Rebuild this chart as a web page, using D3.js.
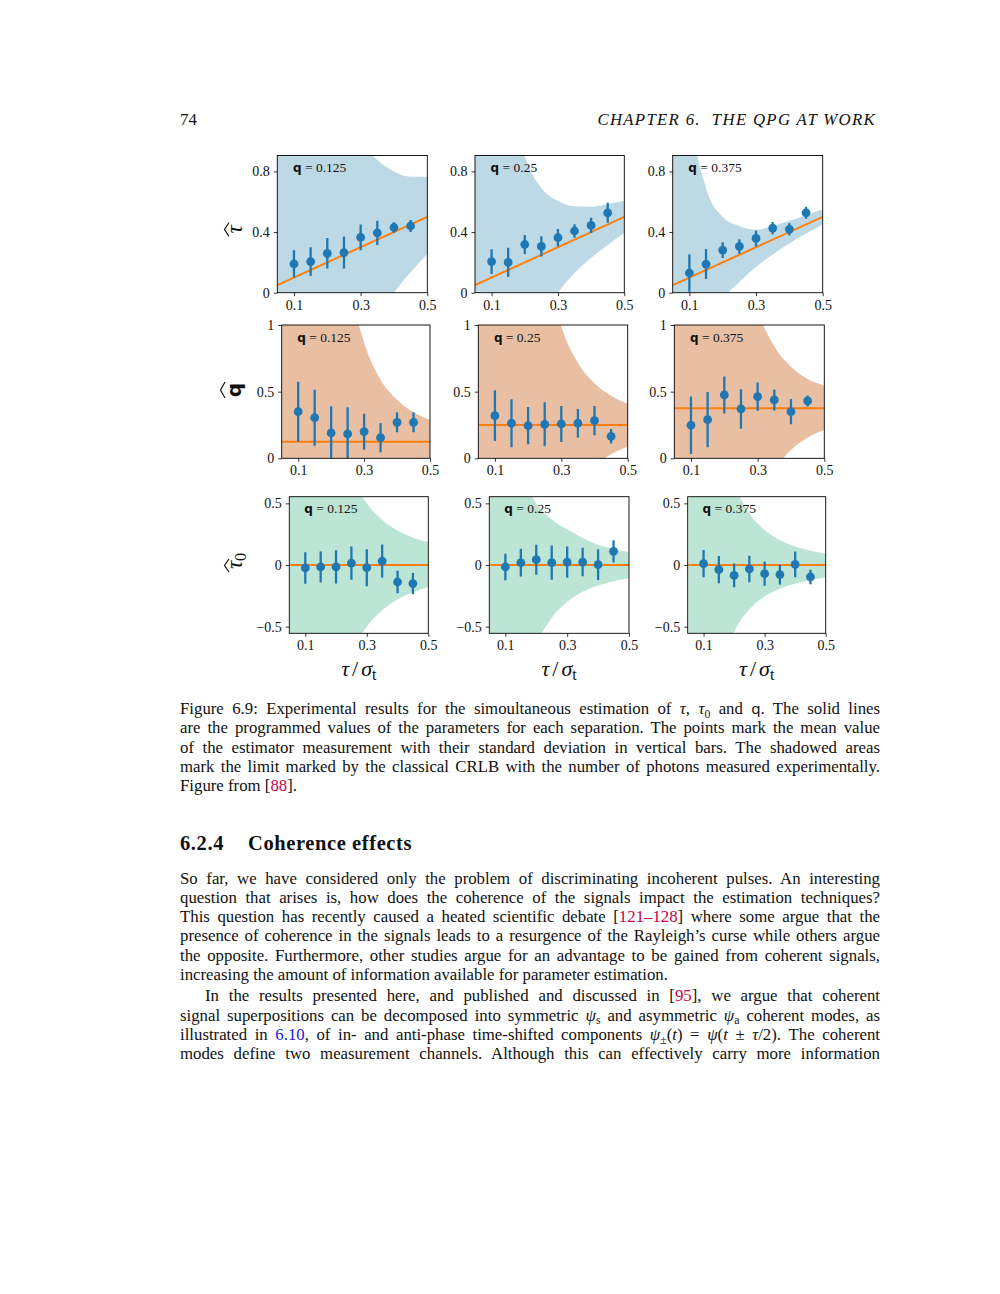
<!DOCTYPE html>
<html><head><meta charset="utf-8">
<script src="https://cdn.jsdelivr.net/npm/d3@7"></script>
<style>
body{margin:0;background:#fff;width:1000px;height:1294px;position:relative;overflow:hidden;font-family:"Liberation Serif",serif;color:#111;}
.ln{position:absolute;left:180px;width:700px;font-size:16.8px;line-height:16.8px;text-align:justify;text-align-last:justify;white-space:nowrap;}
.last{text-align-last:left;}
.it{font-style:italic}
.ref{color:#c8004b}
.lk{color:#2020d0}
.sb{position:relative;top:0.3em;font-size:70%;font-style:normal}
.sf{font-family:"DejaVu Sans",sans-serif;font-size:88%}
svg{position:absolute;left:0;top:0}
</style></head><body>
<svg id="fig" width="1000" height="700"></svg>

<div class="ln last" style="top:112px;width:60px">74</div>
<div class="ln last it" style="top:112px;left:auto;right:124px;width:auto;text-align:right;letter-spacing:1.3px">CHAPTER 6.&nbsp; THE QPG AT WORK</div>

<div class="ln" style="top:701px">Figure 6.9: Experimental results for the simoultaneous estimation of <span class="it">τ</span>, <span class="it">τ</span><span class="sb">0</span> and <span class="sf">q</span>. The solid lines</div>
<div class="ln" style="top:720.3px">are the programmed values of the parameters for each separation. The points mark the mean value</div>
<div class="ln" style="top:739.7px">of the estimator measurement with their standard deviation in vertical bars. The shadowed areas</div>
<div class="ln" style="top:759px">mark the limit marked by the classical CRLB with the number of photons measured experimentally.</div>
<div class="ln last" style="top:778.3px">Figure from [<span class="ref">88</span>].</div>

<div class="ln last" style="top:832.8px;font-size:20.5px;line-height:20.5px;font-weight:bold;letter-spacing:0.6px"><span style="display:inline-block;width:68px">6.2.4</span>Coherence effects</div>

<div class="ln" style="top:871px">So far, we have considered only the problem of discriminating incoherent pulses. An interesting</div>
<div class="ln" style="top:890px">question that arises is, how does the coherence of the signals impact the estimation techniques?</div>
<div class="ln" style="top:909.3px">This question has recently caused a heated scientific debate [<span class="ref">121–128</span>] where some argue that the</div>
<div class="ln" style="top:928.3px">presence of coherence in the signals leads to a resurgence of the Rayleigh’s curse while others argue</div>
<div class="ln" style="top:947.7px">the opposite. Furthermore, other studies argue for an advantage to be gained from coherent signals,</div>
<div class="ln last" style="top:967px">increasing the amount of information available for parameter estimation.</div>
<div class="ln" style="top:987.7px;left:205px;width:675px">In the results presented here, and published and discussed in [<span class="ref">95</span>], we argue that coherent</div>
<div class="ln" style="top:1007.7px">signal superpositions can be decomposed into symmetric <span class="it">ψ</span><span class="sb it">s</span> and asymmetric <span class="it">ψ</span><span class="sb it">a</span> coherent modes, as</div>
<div class="ln" style="top:1027px">illustrated in <span class="lk">6.10</span>, of in- and anti-phase time-shifted components <span class="it">ψ</span><span class="sb">±</span>(<span class="it">t</span>) = <span class="it">ψ</span>(<span class="it">t</span> ± <span class="it">τ</span>/2). The coherent</div>
<div class="ln" style="top:1046px">modes define two measurement channels. Although this can effectively carry more information</div>

<script>
// ---------------- data ----------------
const xPoints = [0.10, 0.15, 0.20, 0.25, 0.30, 0.35, 0.40, 0.45];
const bandX   = [0.05, 0.10, 0.15, 0.20, 0.25, 0.30, 0.35, 0.40, 0.45, 0.50];
const qValues = [0.125, 0.25, 0.375];
const qLabels = ["0.125", "0.25", "0.375"];
const xTicks = [0.1, 0.3, 0.5];
const tauTicks = [0, 0.4, 0.8];
const qTicks = [0, 0.5, 1];
const tau0Ticks = [-0.5, 0, 0.5];
const trueLineX = [0.05, 0.5];
const tauTrue = [0.05, 0.5];
const tau0True = [0, 0];

// tau estimates
const tauMean_q125 = [0.19, 0.205, 0.26, 0.265, 0.365, 0.395, 0.43, 0.44];
const tauStd_q125  = [0.09, 0.095, 0.10, 0.105, 0.085, 0.08, 0.035, 0.04];
const tauMean_q250 = [0.205, 0.20, 0.318, 0.305, 0.363, 0.407, 0.444, 0.527];
const tauStd_q250  = [0.082, 0.097, 0.063, 0.067, 0.057, 0.044, 0.05, 0.066];
const tauMean_q375 = [0.13, 0.189, 0.281, 0.305, 0.358, 0.426, 0.418, 0.527];
const tauStd_q375  = [0.124, 0.099, 0.052, 0.048, 0.053, 0.04, 0.04, 0.04];
// q estimates
const qMean_q125 = [0.35, 0.305, 0.19, 0.183, 0.20, 0.155, 0.27, 0.27];
const qStd_q125  = [0.225, 0.21, 0.20, 0.20, 0.135, 0.11, 0.075, 0.075];
const qMean_q250 = [0.32, 0.263, 0.245, 0.255, 0.258, 0.263, 0.283, 0.165];
const qStd_q250  = [0.19, 0.18, 0.14, 0.165, 0.135, 0.107, 0.11, 0.054];
const qMean_q375 = [0.248, 0.29, 0.475, 0.37, 0.463, 0.438, 0.35, 0.43];
const qStd_q375  = [0.216, 0.207, 0.138, 0.148, 0.106, 0.079, 0.095, 0.041];
// tau0 estimates
const t0Mean_q125 = [-0.024, -0.016, -0.016, 0.016, -0.022, 0.032, -0.138, -0.151];
const t0Std_q125  = [0.128, 0.126, 0.135, 0.135, 0.15, 0.134, 0.092, 0.086];
const t0Mean_q250 = [-0.016, 0.019, 0.043, 0.019, 0.024, 0.024, 0.003, 0.111];
const t0Std_q250  = [0.108, 0.112, 0.122, 0.139, 0.127, 0.116, 0.124, 0.09];
const t0Mean_q375 = [0.011, -0.038, -0.084, -0.032, -0.07, -0.078, 0.005, -0.097];
const t0Std_q375  = [0.111, 0.111, 0.097, 0.108, 0.099, 0.081, 0.104, 0.059];

// CRLB bands (upper / lower edges at bandX)
const tauUp_q125 = [9, 6.35, 2.93, 1.76, 1.25, 1.0, 0.875, 0.8, 0.765, 0.765];
const tauLo_q125 = [-9, -6.15, -2.63, -1.36, -0.75, -0.39, -0.16, 0.0, 0.135, 0.255];
const tauUp_q250 = [9, 2.8, 1.35, 0.9, 0.69, 0.605, 0.57, 0.567, 0.585, 0.607];
const tauLo_q250 = [-9, -2.6, -1.05, -0.47, -0.18, 0.0, 0.13, 0.23, 0.315, 0.393];
const tauUp_q375 = [6, 1.3, 0.69, 0.50, 0.44, 0.415, 0.44, 0.475, 0.51, 0.55];
const tauLo_q375 = [-6, -1.1, -0.38, -0.06, 0.07, 0.17, 0.252, 0.325, 0.39, 0.45];

const qUp_q125 = [9, 9, 6, 2.6, 1.41, 0.87, 0.59, 0.44, 0.345, 0.287];
const qLo_q125 = [-9, -9, -6, -2.4, -1.15, -0.62, -0.34, -0.19, -0.095, -0.035];
const qUp_q250 = [9, 9, 6, 2.75, 1.53, 0.99, 0.716, 0.5625, 0.47, 0.41];
const qLo_q250 = [-9, -9, -6, -2.25, -1.03, -0.49, -0.216, -0.0625, 0.03, 0.087];
const qUp_q375 = [9, 9, 6, 2.875, 1.655, 1.115, 0.841, 0.6875, 0.595, 0.545];
const qLo_q375 = [-9, -9, -6, -2.125, -0.905, -0.365, -0.091, 0.0625, 0.155, 0.212];

const t0Up_q125 = [18, 4.5, 2.0, 1.125, 0.72, 0.5, 0.367, 0.28, 0.222, 0.184];
const t0Lo_q125 = [-18, -4.5, -2.0, -1.125, -0.72, -0.5, -0.367, -0.28, -0.222, -0.178];
const t0Up_q250 = [12, 3.2, 0.8, 0.5, 0.37, 0.29, 0.22, 0.165, 0.13, 0.105];
const t0Lo_q250 = [-10.6, -2.66, -1.18, -0.665, -0.43, -0.30, -0.217, -0.166, -0.131, -0.108];
const t0Up_q375 = [14, 3.2, 1.3, 0.687, 0.42, 0.283, 0.2, 0.15, 0.116, 0.092];
const t0Lo_q375 = [-7, -1.97, -0.93, -0.544, -0.36, -0.256, -0.193, -0.151, -0.121, -0.10];

// ---------------- layout ----------------
const rows = [
  {top:155.5, bottom:292.7, lefts:[277.3,475,672.7], rights:[427.3,624.3,822.7], xdom:[0.05,0.5], ydom:[0,0.905], ticks:tauTicks,
   band:"#bdd9e5", means:[tauMean_q125,tauMean_q250,tauMean_q375], stds:[tauStd_q125,tauStd_q250,tauStd_q375],
   ups:[tauUp_q125,tauUp_q250,tauUp_q375], los:[tauLo_q125,tauLo_q250,tauLo_q375], truth:i=>tauTrue},
  {top:325, bottom:458.3, lefts:[281.7,478.3,674.3], rights:[430,627.7,824.3], xdom:[0.05,0.5], ydom:[0,1], ticks:qTicks,
   band:"#e8bfa3", means:[qMean_q125,qMean_q250,qMean_q375], stds:[qStd_q125,qStd_q250,qStd_q375],
   ups:[qUp_q125,qUp_q250,qUp_q375], los:[qLo_q125,qLo_q250,qLo_q375], truth:i=>[qValues[i],qValues[i]]},
  {top:496.7, bottom:633.3, lefts:[289.3,489.3,687.7], rights:[428.3,629,825.7], xdom:[0.048,0.5], ydom:[-0.554,0.554], ticks:tau0Ticks,
   band:"#bde5d5", means:[t0Mean_q125,t0Mean_q250,t0Mean_q375], stds:[t0Std_q125,t0Std_q250,t0Std_q375],
   ups:[t0Up_q125,t0Up_q250,t0Up_q375], los:[t0Lo_q125,t0Lo_q250,t0Lo_q375], truth:i=>tau0True}
];

const svg = d3.select("#fig");
const BLUE = "#1f77b4", ORANGE = "#ff7f0e";
const fmtY = d => d === 0 ? "0" : (Number.isInteger(d) ? String(d) : d3.format(".1f")(d).replace("-", "\u2212"));

rows.forEach((r, ri) => {
  r.lefts.forEach((L, ci) => {
    const R = r.rights[ci];
    const x = d3.scaleLinear().domain(r.xdom).range([L, R]);
    const y = d3.scaleLinear().domain(r.ydom).range([r.bottom, r.top]);
    const g = svg.append("g");
    const cid = `clip${ri}${ci}`;
    g.append("clipPath").attr("id", cid).append("rect")
      .attr("x", L).attr("y", r.top).attr("width", R - L).attr("height", r.bottom - r.top);
    const pg = g.append("g").attr("clip-path", `url(#${cid})`);
    const up = r.ups[ci], lo = r.los[ci];
    const area = d3.area().curve(d3.curveMonotoneX)
      .x((d, i) => x(bandX[i])).y0((d, i) => y(lo[i])).y1((d, i) => y(up[i]));
    pg.append("path").datum(bandX).attr("d", area).attr("fill", r.band);
    const tv = r.truth(ci);
    pg.append("path").datum(trueLineX)
      .attr("d", d3.line().x(d => x(d)).y((d, i) => y(tv[i])))
      .attr("stroke", ORANGE).attr("stroke-width", 2).attr("fill", "none");
    const m = r.means[ci], s = r.stds[ci];
    pg.selectAll(".eb").data(xPoints).enter().append("line")
      .attr("x1", d => x(d)).attr("x2", d => x(d))
      .attr("y1", (d, i) => y(m[i] - s[i])).attr("y2", (d, i) => y(m[i] + s[i]))
      .attr("stroke", BLUE).attr("stroke-width", 2.3);
    pg.selectAll(".pt").data(xPoints).enter().append("circle")
      .attr("cx", d => x(d)).attr("cy", (d, i) => y(m[i])).attr("r", 4.4).attr("fill", BLUE);
    g.append("rect").attr("x", L).attr("y", r.top).attr("width", R - L).attr("height", r.bottom - r.top)
      .attr("fill", "none").attr("stroke", "#000").attr("stroke-width", 0.9);
    const xa = g.append("g").attr("transform", `translate(0,${r.bottom})`)
      .call(d3.axisBottom(x).tickValues(xTicks).tickSize(3.5).tickPadding(3.6).tickFormat(d3.format(".1f")));
    const ya = g.append("g").attr("transform", `translate(${L},0)`)
      .call(d3.axisLeft(y).tickValues(r.ticks).tickSize(3.5).tickPadding(4).tickFormat(fmtY));
    [xa, ya].forEach(a => {
      a.select(".domain").remove();
      a.selectAll("line").attr("stroke", "#000").attr("stroke-width", 0.8);
      a.selectAll("text").attr("font-family", "Liberation Serif, serif").attr("font-size", 14).attr("fill", "#111");
    });
    // annotation
    const t = g.append("text").attr("x", x(0.1) - 1).attr("y", r.top + 16.5)
      .attr("font-family", "Liberation Serif, serif").attr("font-size", 13.5).attr("fill", "#111");
    t.append("tspan").attr("font-family", "DejaVu Sans, sans-serif").attr("font-weight", "bold").attr("font-size", 12).text("q");
    t.append("tspan").text(" = " + qLabels[ci]);
    // x label on bottom row
    if (ri === 2) {
      const xl = g.append("text").attr("x", (L + R) / 2).attr("y", 676).attr("text-anchor", "middle")
        .attr("font-family", "Liberation Serif, serif").attr("font-size", 22).attr("fill", "#111");
      xl.append("tspan").attr("font-style", "italic").text("τ");
      xl.append("tspan").attr("dx", 3).text("/");
      xl.append("tspan").attr("dx", 3).attr("font-style", "italic").text("σ");
      xl.append("tspan").attr("font-size", 16).attr("dy", 4).text("t");
    }
  });
});

// y labels (rotated)
function yLabel(cx, cy, build) {
  const g = svg.append("g").attr("transform", `translate(${cx},${cy}) rotate(-90)`);
  build(g);
}
function hat(g, w, yb) {
  g.append("path").attr("d", `M${-w},${yb} L0,${yb - 4.5} L${w},${yb}`).attr("fill", "none")
    .attr("stroke", "#111").attr("stroke-width", 1.2);
}
yLabel(237, 229.5, g => {
  g.append("text").attr("text-anchor", "middle").attr("y", 4.5).attr("font-family", "Liberation Serif, serif")
    .attr("font-style", "italic").attr("font-size", 23).attr("fill", "#111").text("τ");
  hat(g, 7, -8);
});
yLabel(238, 390, g => {
  g.append("text").attr("text-anchor", "middle").attr("y", 2.5).attr("font-family", "DejaVu Sans, sans-serif")
    .attr("font-weight", "bold").attr("font-size", 20).attr("fill", "#111").text("q");
  hat(g, 8, -13);
});
yLabel(237, 561, g => {
  const t = g.append("text").attr("text-anchor", "middle").attr("y", 4.5).attr("font-family", "Liberation Serif, serif")
    .attr("font-size", 23).attr("fill", "#111");
  t.append("tspan").attr("font-style", "italic").text("τ");
  t.append("tspan").attr("font-size", 16).attr("dy", 4).text("0");
  g.append("path").attr("d", `M-11,-8 L-4.5,-12.5 L2,-8`).attr("fill", "none").attr("stroke", "#111").attr("stroke-width", 1.2);
});
</script>
</body></html>
